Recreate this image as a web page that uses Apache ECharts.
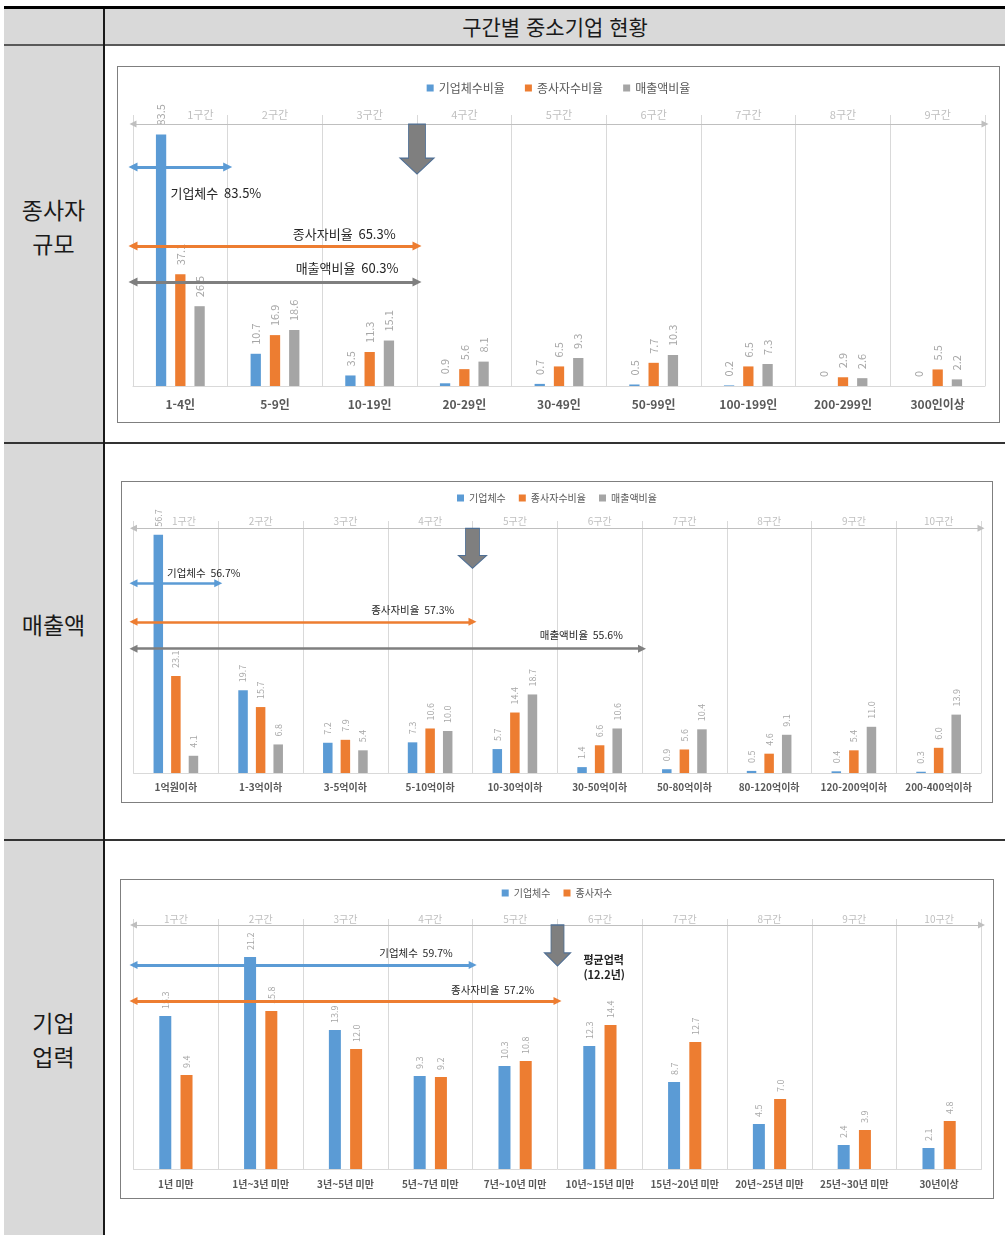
<!DOCTYPE html>
<html lang="ko">
<head>
<meta charset="utf-8">
<title>구간별 중소기업 현황</title>
<script src="https://cdn.jsdelivr.net/npm/echarts@6/dist/echarts.min.js"></script>
<style>
  html, body { margin: 0; padding: 0; background: #fff; }
  #page { position: relative; width: 1005px; height: 1235px; overflow: hidden;
          font-family: "Noto Sans CJK KR", "Noto Sans", sans-serif; }
  .blk { position: absolute; }
  .rowhead { position: absolute; left: 4px; width: 99px; text-align: center;
             font-size: 23px; line-height: 34px; color: #1a1a1a; }
  .chart { position: absolute; box-sizing: border-box; border: 1px solid #7f7f7f; background: #fff; }
</style>
</head>
<body>
<div id="page">
  <!-- table frame -->
  <div class="blk" style="left:4px;top:9px;width:1001px;height:35px;background:#d9d9d9"></div>
  <div class="blk" style="left:4px;top:46px;width:99px;height:1189px;background:#d9d9d9"></div>
  <div class="blk" style="left:4px;top:6px;width:1001px;height:3px;background:#000"></div>
  <div class="blk" style="left:4px;top:44px;width:1001px;height:2px;background:#595959"></div>
  <div class="blk" style="left:4px;top:442px;width:1001px;height:2px;background:#333"></div>
  <div class="blk" style="left:4px;top:839px;width:1001px;height:2px;background:#333"></div>
  <div class="blk" style="left:103px;top:9px;width:2px;height:1226px;background:#1a1a1a"></div>
  <div class="blk" style="left:105px;top:9px;width:900px;height:35px;line-height:35px;text-align:center;font-size:21px;color:#1a1a1a">구간별 중소기업 현황</div>

  <div class="rowhead" style="top:192px">종사자<br>규모</div>
  <div class="rowhead" style="top:607px">매출액</div>
  <div class="rowhead" style="top:1005px">기업<br>업력</div>

  <div id="chartSize" class="chart" style="left:117px;top:66px;width:883px;height:357px"></div>
  <div id="chartSales" class="chart" style="left:121px;top:481px;width:872px;height:322px"></div>
  <div id="chartAge" class="chart" style="left:120px;top:879px;width:874px;height:320px"></div>
</div>

<script>
const FONT = '"Noto Sans CJK KR", "Noto Sans", sans-serif';
const BLUE = '#5b9bd5', ORANGE = '#ed7d31', GRAY = '#a5a5a5', DARK_GRAY = '#7f7f7f';

// ---- 종사자 규모 ----
const sizeCategories = ['1-4인', '5-9인', '10-19인', '20-29인', '30-49인', '50-99인', '100-199인', '200-299인', '300인이상'];
const sizeZones = ['1구간', '2구간', '3구간', '4구간', '5구간', '6구간', '7구간', '8구간', '9구간'];
const sizeSeriesNames = ['기업체수비율', '종사자수비율', '매출액비율'];
const sizeFirmShare = [83.5, 10.7, 3.5, 0.9, 0.7, 0.5, 0.2, 0, 0];
const sizeWorkerShare = [37.1, 16.9, 11.3, 5.6, 6.5, 7.7, 6.5, 2.9, 5.5];
const sizeSalesShare = [26.5, 18.6, 15.1, 8.1, 9.3, 10.3, 7.3, 2.6, 2.2];
const sizeArrowNames = ['기업체수', '종사자비율', '매출액비율'];
const sizeArrowShares = [83.5, 65.3, 60.3];
const sizeArrowSpans = [1, 3, 3];
const sizeMarkerAt = 3;

// ---- 매출액 ----
const salesCategories = ['1억원이하', '1-3억이하', '3-5억이하', '5-10억이하', '10-30억이하', '30-50억이하', '50-80억이하', '80-120억이하', '120-200억이하', '200-400억이하'];
const salesZones = ['1구간', '2구간', '3구간', '4구간', '5구간', '6구간', '7구간', '8구간', '9구간', '10구간'];
const salesSeriesNames = ['기업체수', '종사자수비율', '매출액비율'];
const salesFirmShare = [56.7, 19.7, 7.2, 7.3, 5.7, 1.4, 0.9, 0.5, 0.4, 0.3];
const salesWorkerShare = [23.1, 15.7, 7.9, 10.6, 14.4, 6.6, 5.6, 4.6, 5.4, 6.0];
const salesSalesShare = [4.1, 6.8, 5.4, 10.0, 18.7, 10.6, 10.4, 9.1, 11.0, 13.9];
const salesArrowNames = ['기업체수', '종사자비율', '매출액비율'];
const salesArrowShares = [56.7, 57.3, 55.6];
const salesArrowSpans = [1, 4, 6];
const salesMarkerAt = 4;

// ---- 기업 업력 ----
const ageCategories = ['1년 미만', '1년~3년 미만', '3년~5년 미만', '5년~7년 미만', '7년~10년 미만', '10년~15년 미만', '15년~20년 미만', '20년~25년 미만', '25년~30년 미만', '30년이상'];
const ageZones = ['1구간', '2구간', '3구간', '4구간', '5구간', '6구간', '7구간', '8구간', '9구간', '10구간'];
const ageSeriesNames = ['기업체수', '종사자수'];
const ageFirmShare = [15.3, 21.2, 13.9, 9.3, 10.3, 12.3, 8.7, 4.5, 2.4, 2.1];
const ageWorkerShare = [9.4, 15.8, 12.0, 9.2, 10.8, 14.4, 12.7, 7.0, 3.9, 4.8];
const ageArrowNames = ['기업체수', '종사자비율'];
const ageArrowShares = [59.7, 57.2];
const ageArrowSpans = [4, 5];
const ageMarkerAt = 5;
const ageAverageYears = 12.2;

// down-pointing block arrow
const DOWN_ARROW = 'path://M25,0L75,0L75,68L100,68L50,100L0,68L25,68Z';

function textPoint(at, text, size, bold) {
  return {
    coord: [at.x, at.y],
    symbol: 'circle', symbolSize: 1,
    itemStyle: { color: 'rgba(0,0,0,0)' },
    label: {
      show: true, position: at.align === 'left' ? 'right' : 'left', distance: 0,
      formatter: () => text, color: '#262626', fontSize: size, fontFamily: FONT,
      fontWeight: bold ? 'bold' : 'normal', lineHeight: Math.round(size * 1.4)
    }
  };
}

function buildChart(id, d, L) {
  const chart = echarts.init(document.getElementById(id));
  const n = d.categories.length;

  const bars = d.values.map((vals, i) => ({
    name: d.names[i], type: 'bar', data: vals, xAxisIndex: 0, yAxisIndex: 0,
    barWidth: L.barWidth, barGap: L.barGap, silent: true, z: 2,
    itemStyle: { color: d.colors[i] },
    label: {
      show: true, position: 'top', rotate: 90, align: 'left', verticalAlign: 'middle',
      distance: L.valueDistance, color: '#a6a6a6', fontSize: L.valueFont, fontFamily: FONT,
      formatter: p => L.fmt(p.value)
    }
  }));

  // first zone label is nudged right so it clears the tall first bar's value
  const zoneData = d.zones.map((z, i) => i === 0 && L.firstZonePad
    ? { value: z, textStyle: { padding: [0, 0, 0, L.firstZonePad], verticalAlign: 'middle' } }
    : z);

  // zone guide line along the top, then the cumulative-share arrows
  const lineData = [[
    { coord: [0, L.guideY], lineStyle: { color: '#bfbfbf', width: 1, type: 'solid' }, symbolSize: 7 },
    { coord: [n, L.guideY], symbolSize: 7 }
  ]];
  const pointData = [{
    coord: [d.markerAt, L.marker.y], symbol: DOWN_ARROW, symbolSize: L.marker.size,
    itemStyle: { color: DARK_GRAY, borderColor: '#4f6f94', borderWidth: 1 },
    label: { show: false }
  }];
  d.arrowNames.forEach((name, i) => {
    lineData.push([
      { coord: [0, L.arrowY[i]], lineStyle: { color: d.arrowColors[i], width: L.arrowWidth, type: 'solid' } },
      { coord: [d.arrowSpans[i], L.arrowY[i]] }
    ]);
    pointData.push(textPoint(L.labelAt[i], name + '  ' + d.arrowShares[i].toFixed(1) + '%', L.labelFont, false));
  });
  if (d.note) pointData.push(textPoint(L.noteAt, d.note, L.noteFont, true));

  chart.setOption({
    animation: false,
    legend: {
      data: d.names, top: L.legend.top, left: 'center', icon: 'rect',
      itemWidth: 7, itemHeight: 7, itemGap: L.legend.itemGap, selectedMode: false,
      textStyle: { color: '#595959', fontSize: L.legend.fontSize, fontFamily: FONT }
    },
    grid: Object.assign({ containLabel: false }, L.grid),
    xAxis: [
      {
        type: 'category', data: d.categories, position: 'bottom',
        axisLine: { lineStyle: { color: '#d9d9d9' } }, axisTick: { show: false },
        splitLine: { show: true, interval: 0, lineStyle: { color: '#d9d9d9' } },
        axisLabel: { interval: 0, color: '#595959', fontWeight: 'bold', fontSize: L.axisFont, fontFamily: FONT, margin: L.axisMargin }
      },
      {
        type: 'category', data: zoneData, position: 'top',
        axisLine: { show: false }, axisTick: { show: false }, splitLine: { show: false },
        axisLabel: { interval: 0, color: '#bfbfbf', fontSize: L.zoneFont, fontFamily: FONT, margin: 0, verticalAlign: 'middle' }
      },
      { type: 'value', min: 0, max: n, show: false }
    ],
    yAxis: { type: 'value', min: 0, max: L.yMax, show: false },
    series: bars.concat([{
      type: 'scatter', xAxisIndex: 2, yAxisIndex: 0, data: [], silent: true, z: 5,
      markLine: {
        silent: true, symbol: ['triangle', 'triangle'], symbolSize: L.arrowHead,
        lineStyle: { type: 'solid' },
        label: { show: false }, emphasis: { disabled: true }, data: lineData
      },
      markPoint: { silent: true, data: pointData }
    }])
  });
  return chart;
}

buildChart('chartSize', {
  categories: sizeCategories, zones: sizeZones, names: sizeSeriesNames,
  values: [sizeFirmShare, sizeWorkerShare, sizeSalesShare], colors: [BLUE, ORANGE, GRAY],
  arrowNames: sizeArrowNames, arrowShares: sizeArrowShares, arrowSpans: sizeArrowSpans,
  arrowColors: [BLUE, ORANGE, DARK_GRAY], markerAt: sizeMarkerAt
}, {
  grid: { left: 15, top: 48, width: 852, height: 271 },
  yMax: 90, guideY: 87, firstZonePad: 40,
  barWidth: 10.3, barGap: '87%',
  valueFont: 11, valueDistance: 9, fmt: v => String(v),
  axisFont: 12, axisMargin: 12, zoneFont: 11,
  legend: { top: 10, fontSize: 12, itemGap: 20 },
  arrowWidth: 3, arrowHead: [9, 9],
  arrowY: [72.7, 46.5, 34.5],
  labelFont: 13,
  labelAt: [{ x: 0.39, y: 64.1, align: 'left' }, { x: 2.78, y: 50.5, align: 'right' }, { x: 2.81, y: 39.2, align: 'right' }],
  marker: { y: 78.7, size: [34, 50] }
});

buildChart('chartSales', {
  categories: salesCategories, zones: salesZones, names: salesSeriesNames,
  values: [salesFirmShare, salesWorkerShare, salesSalesShare], colors: [BLUE, ORANGE, GRAY],
  arrowNames: salesArrowNames, arrowShares: salesArrowShares, arrowSpans: salesArrowSpans,
  arrowColors: [BLUE, ORANGE, DARK_GRAY], markerAt: salesMarkerAt
}, {
  grid: { left: 11.5, top: 39, width: 847.5, height: 252 },
  yMax: 60, guideY: 58.3, firstZonePad: 16,
  barWidth: 9.5, barGap: '85%',
  valueFont: 9, valueDistance: 8, fmt: v => v.toFixed(1),
  axisFont: 10, axisMargin: 9, zoneFont: 10,
  legend: { top: 6, fontSize: 10, itemGap: 13 },
  arrowWidth: 2.5, arrowHead: [8, 8],
  arrowY: [45.2, 36.0, 29.6],
  labelFont: 10.5,
  labelAt: [{ x: 0.39, y: 47.7, align: 'left' }, { x: 3.79, y: 38.8, align: 'right' }, { x: 5.78, y: 32.9, align: 'right' }],
  marker: { y: 53.5, size: [28, 40] }
});

buildChart('chartAge', {
  categories: ageCategories, zones: ageZones, names: ageSeriesNames,
  values: [ageFirmShare, ageWorkerShare], colors: [BLUE, ORANGE],
  arrowNames: ageArrowNames, arrowShares: ageArrowShares, arrowSpans: ageArrowSpans,
  arrowColors: [BLUE, ORANGE], markerAt: ageMarkerAt,
  note: '평균업력\n(' + ageAverageYears.toFixed(1) + '년)'
}, {
  grid: { left: 12.5, top: 39, width: 848, height: 250 },
  yMax: 25, guideY: 24.4,
  barWidth: 12, barGap: '77%',
  valueFont: 9, valueDistance: 7, fmt: v => v.toFixed(1),
  axisFont: 10, axisMargin: 10, zoneFont: 10,
  legend: { top: 3, fontSize: 10, itemGap: 13 },
  arrowWidth: 3, arrowHead: [8, 8],
  arrowY: [20.4, 16.8],
  labelFont: 10.5,
  labelAt: [{ x: 3.77, y: 21.6, align: 'right' }, { x: 4.73, y: 17.9, align: 'right' }],
  noteAt: { x: 5.30, y: 20.2, align: 'left' }, noteFont: 11,
  marker: { y: 22.35, size: [26, 41] }
});
</script>
</body>
</html>
